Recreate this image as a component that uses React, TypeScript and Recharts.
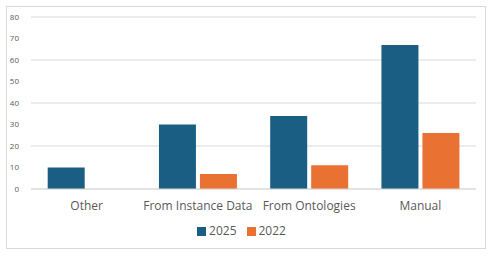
import React from "react";
import { BarChart, Bar, XAxis, YAxis, CartesianGrid, Legend } from "recharts";

const categories = ["Other", "From Instance Data", "From Ontologies", "Manual"];
const values2025 = [10, 30, 34, 67];
const values2022 = [0, 7, 11, 26];
const yTicks = [0, 10, 20, 30, 40, 50, 60, 70, 80];
const seriesNames = ["2025", "2022"];
const seriesColors = ["#1a5e83", "#e97132"];

const data = categories.map((c, i) => ({ name: c, y2025: values2025[i], y2022: values2022[i] }));

const FONT = "'Open Sans', 'Liberation Sans', sans-serif";

function LegendContent() {
  return (
    <div
      style={{
        display: "flex",
        justifyContent: "center",
        alignItems: "center",
        paddingTop: 5,
        fontSize: 12,
        lineHeight: "14px",
        color: "#595959",
        fontFamily: FONT,
      }}
    >
      {seriesNames.map((n, i) => (
        <span key={n} style={{ display: "inline-flex", alignItems: "center", marginRight: i === 0 ? 10 : 0 }}>
          <span style={{ display: "inline-block", width: 9, height: 9, background: seriesColors[i], marginRight: 3 }} />
          {n}
        </span>
      ))}
    </div>
  );
}

export default function App() {
  return (
    <div
      style={{
        position: "absolute",
        left: 6,
        top: 6,
        width: 478,
        height: 241,
        border: "1px solid #d9d9d9",
        background: "#fff",
        fontFamily: FONT,
      }}
    >
      <BarChart
        width={478}
        height={241}
        data={data}
        margin={{ top: 10, right: 9, left: 0, bottom: 0 }}
        barCategoryGap="15%"
        barGap={4}
      >
        <CartesianGrid vertical={false} stroke="#d9d9d9" />
        <XAxis
          dataKey="name"
          axisLine={{ stroke: "#d9d9d9" }}
          tickLine={false}
          height={30}
          tickMargin={6}
          tick={{ fill: "#595959", fontSize: 12, fontFamily: FONT }}
          interval={0}
        />
        <YAxis
          domain={[0, 80]}
          ticks={yTicks}
          axisLine={false}
          tickLine={false}
          width={24}
          tickMargin={6}
          tick={{ fill: "#595959", fontSize: 8, fontFamily: FONT }}
        />
        <Legend verticalAlign="bottom" align="center" height={29} content={<LegendContent />} />
        <Bar dataKey="y2025" name="2025" fill={seriesColors[0]} isAnimationActive={false} />
        <Bar dataKey="y2022" name="2022" fill={seriesColors[1]} isAnimationActive={false} />
      </BarChart>
    </div>
  );
}
